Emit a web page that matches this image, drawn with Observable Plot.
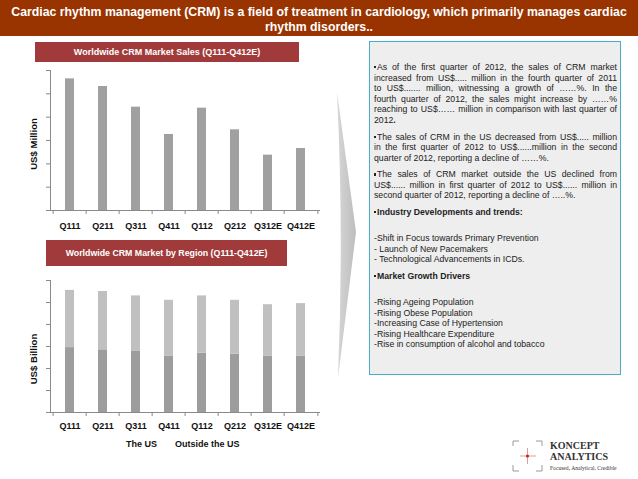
<!DOCTYPE html>
<html><head><meta charset="utf-8">
<script src="https://cdn.jsdelivr.net/npm/d3@7"></script>
<script src="https://cdn.jsdelivr.net/npm/@observablehq/plot@0.6"></script>
<style>
body{margin:0;background:#fff;font-family:"Liberation Sans",Arial,sans-serif;}
#page{position:relative;width:638px;height:479px;overflow:hidden;background:#fff;}
.abs{position:absolute;}
#header{left:0;top:0;width:638px;height:36px;background:#993300;color:#fff;font-weight:bold;font-size:12.3px;text-align:center;line-height:15px;padding-top:4.5px;box-sizing:border-box;}
.ctitle{position:absolute;background:#a13a3a;color:#fff;font-weight:bold;font-size:9px;display:flex;align-items:center;justify-content:center;}
#panel{left:369px;top:41px;width:252px;height:334px;background:#eeeeee;border:1px solid #4bacc6;box-sizing:border-box;}
.ln{position:absolute;left:374px;width:243px;font-size:8.7px;line-height:10px;height:10px;color:#222;white-space:nowrap;}
.j{text-align:justify;text-align-last:justify;white-space:normal;}
.b{font-weight:bold;}
.sq{display:inline-block;width:2.4px;height:2.4px;background:#222;vertical-align:1.6px;margin-right:0.6px;}
.leg{position:absolute;font-weight:bold;font-size:9px;color:#111;line-height:10px;}
.ylab{position:absolute;font-weight:bold;font-size:9.6px;color:#111;white-space:nowrap;transform:translate(-50%,-50%) rotate(-90deg);line-height:10px;}
.logo{position:absolute;font-family:"Liberation Serif","DejaVu Serif",serif;color:#333;white-space:nowrap;}
</style></head>
<body>
<div id="page">
  <div id="header" class="abs">Cardiac rhythm management (CRM) is a field of treatment in cardiology, which primarily manages cardiac<br>rhythm disorders..</div>
  <div class="ctitle" style="left:35px;top:42px;width:264px;height:20px;">Worldwide CRM Market Sales (Q111-Q412E)</div>
  <div class="ctitle" style="left:46px;top:240px;width:241px;height:26px;font-size:8.8px;">Worldwide CRM Market by Region (Q111-Q412E)</div>
  <div id="c1" class="abs" style="left:0;top:62px;"></div>
  <div id="c2" class="abs" style="left:0;top:266px;"></div>
  <div class="ylab" style="left:34px;top:144px;">US$ Million</div>
  <div class="ylab" style="left:34px;top:359px;">US$ Billion</div>
  <div id="legend"></div>
  <svg class="abs" style="left:330px;top:85px;" width="34" height="300">
    <defs><linearGradient id="ag" x1="0" x2="1" y1="0" y2="0"><stop offset="0" stop-color="#d6d6d6"/><stop offset="1" stop-color="#bdbdbd"/></linearGradient></defs>
    <path d="M7,7 L26,147 L8,293 Q14,150 7,7 Z" fill="url(#ag)"/>
  </svg>
  <div id="panel" class="abs"></div>
  <div id="text"></div>
  <svg class="abs" style="left:510px;top:438px;" width="36" height="36">
    <g fill="none" stroke="#9a9a9a" stroke-width="1">
      <path d="M3,8 V3 H9"/><path d="M26,3 H32 V8"/><path d="M3,27 V33 H9"/><path d="M26,33 H32 V27"/>
      <path d="M10,18 H26 M17.5,10 V26" stroke="#d9a0a0"/>
    </g>
    <circle cx="17.5" cy="18" r="1.6" fill="#d62020"/>
  </svg>
  <div class="logo" style="left:550px;top:440px;font-size:10px;font-weight:bold;line-height:12px;">KONCEPT</div>
  <div class="logo" style="left:550px;top:451px;font-size:10px;font-weight:bold;line-height:12px;">ANALYTICS</div>
  <div class="logo" style="left:550px;top:464px;font-size:5.6px;line-height:8px;">Focused, Analytical, Credible</div>
</div>
<script>
// ---- data ----
const quarters = ["Q111","Q211","Q311","Q411","Q112","Q212","Q312E","Q412E"];
const sales = [2821, 2657, 2214, 1629, 2193, 1729, 1186, 1329];            // US$ Million (estimated)
const salesTicks = [0, 500, 1000, 1500, 2000, 2500, 3000];
const regions = ["The US", "Outside the US"];
const usSales = [0.59, 0.57, 0.56, 0.51, 0.54, 0.53, 0.51, 0.51];          // US$ Billion (estimated)
const outsideSales = [0.52, 0.53, 0.50, 0.51, 0.52, 0.49, 0.47, 0.48];
const regionTicks = [0, 0.2, 0.4, 0.6, 0.8, 1.0, 1.2];

const SQ = '<span class="sq"></span>';
const textLines = [
  {y:67, t:SQ + "As of the first quarter of 2012, the sales of CRM market", j:1},
  {y:77.6, t:"increased from US$..... million in the fourth quarter of 2011", j:1},
  {y:88.2, t:"to US$....... million, witnessing a growth of ……%. In the", j:1},
  {y:98.8, t:"fourth quarter of 2012, the sales might increase by ……%", j:1},
  {y:109.4, t:"reaching to US$…… million in comparison with last quarter of", j:1},
  {y:120, t:"2012<b>.</b>"},
  {y:136.5, t:SQ + "The sales of CRM in the US decreased from US$..... million", j:1},
  {y:147.1, t:"in the first quarter of 2012 to US$......million in the second", j:1},
  {y:157.7, t:"quarter of 2012, reporting a decline of ……%."},
  {y:174.2, t:SQ + "The sales of CRM market outside the US declined from", j:1},
  {y:184.8, t:"US$...... million in first quarter of 2012 to US$...... million in", j:1},
  {y:195.4, t:"second quarter of 2012, reporting a decline of …..%."},
  {y:212, t:SQ + "Industry Developments and trends:", b:1},
  {y:238, t:"-Shift in Focus towards Primary Prevention"},
  {y:248.5, t:"- Launch of New Pacemakers"},
  {y:259, t:"- Technological Advancements in ICDs."},
  {y:276, t:SQ + "Market Growth Drivers", b:1},
  {y:302, t:"-Rising Ageing Population"},
  {y:312.5, t:"-Rising Obese Population"},
  {y:323, t:"-Increasing Case of Hypertension"},
  {y:333.5, t:"-Rising Healthcare Expenditure"},
  {y:344, t:"-Rise in consumption of alcohol and tobacco"}
];

// ---- text panel ----
const tdiv = document.getElementById("text");
textLines.forEach(l => {
  const d = document.createElement("div");
  d.className = "ln" + (l.j ? " j" : "") + (l.b ? " b" : "");
  d.style.top = (l.y - 5) + "px";
  d.innerHTML = l.t;
  tdiv.appendChild(d);
});

const font = "Liberation Sans, Arial, sans-serif";
const axisGray = "#8a8a8a";
const step = 270 / quarters.length;

function axes(ticks, pad) {
  return [
    Plot.ruleY([0], {stroke: axisGray}),
    Plot.frame({anchor: "left", stroke: axisGray}),
    Plot.axisY({ticks, tickSize: 4, tickFormat: () => "", stroke: axisGray, label: null}),
    Plot.axisX({tickSize: 0, tickPadding: pad, fontWeight: "bold", fill: "#111", label: null}),
    Plot.axisX({tickSize: 4, tickFormat: () => "", dx: -step / 2, stroke: axisGray, label: null}),
    Plot.axisX({ticks: [quarters[quarters.length - 1]], tickSize: 4, tickFormat: () => "", dx: step / 2, stroke: axisGray, label: null})
  ];
}

// ---- chart 1 ----
const data1 = quarters.map((q, i) => ({q, v: sales[i]}));
const chart1 = Plot.plot({
  width: 330, height: 176, marginLeft: 50, marginRight: 10, marginTop: 8, marginBottom: 28,
  style: {fontFamily: font, fontSize: "9px", color: "#111", background: "transparent", overflow: "visible"},
  x: {domain: quarters, paddingInner: 0.74, paddingOuter: 0.37, axis: null},
  y: {domain: [0, 3000], axis: null},
  marks: [
    Plot.barY(data1, {x: "q", y: "v", fill: "#a0a0a0"}),
    ...axes(salesTicks, 12)
  ]
});
document.getElementById("c1").appendChild(chart1);

// ---- chart 2 ----
const data2 = quarters.flatMap((q, i) => [
  {q, region: regions[0], v: usSales[i]},
  {q, region: regions[1], v: outsideSales[i]}
]);
const chart2 = Plot.plot({
  width: 330, height: 172, marginLeft: 50, marginRight: 10, marginTop: 14, marginBottom: 26,
  style: {fontFamily: font, fontSize: "9px", color: "#111", background: "transparent", overflow: "visible"},
  x: {domain: quarters, paddingInner: 0.74, paddingOuter: 0.37, axis: null},
  y: {domain: [0, 1.2], axis: null},
  color: {domain: regions, range: ["#9d9d9d", "#c0c0c0"]},
  marks: [
    Plot.barY(data2, {x: "q", y: "v", fill: "region"}),
    ...axes(regionTicks, 10.5)
  ]
});
document.getElementById("c2").appendChild(chart2);

// ---- legend (text only, as in the reference) ----
const legendX = [126, 175];
const ldiv = document.getElementById("legend");
regions.forEach((r, i) => {
  const d = document.createElement("div");
  d.className = "leg";
  d.style.left = legendX[i] + "px";
  d.style.top = "439px";
  d.textContent = r;
  ldiv.appendChild(d);
});
</script>
</body></html>
